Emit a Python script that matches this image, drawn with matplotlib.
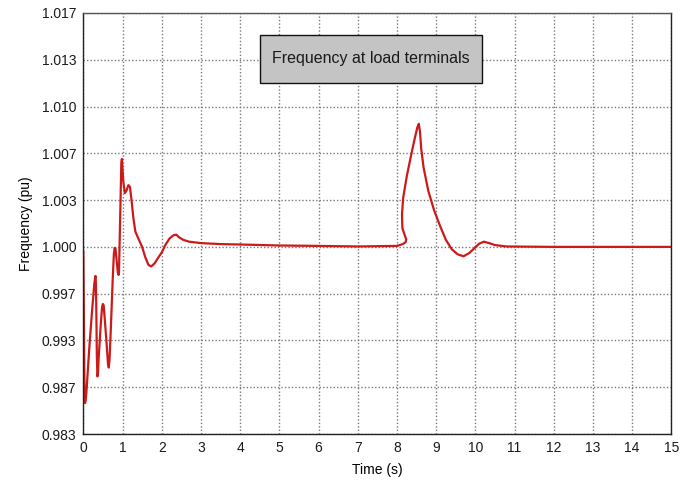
import matplotlib
matplotlib.use("Agg")
import matplotlib.pyplot as plt
from matplotlib.patches import Rectangle

plt.rcParams['font.family'] = ['Liberation Sans', 'DejaVu Sans']

time_s = [0.00, 0.01, 0.025, 0.035, 0.045, 0.06, 0.08, 0.15, 0.22, 0.28, 0.30, 0.31, 0.32,
          0.33, 0.345, 0.36, 0.375, 0.39, 0.45, 0.48, 0.50, 0.52, 0.58, 0.63, 0.65, 0.67,
          0.70, 0.75, 0.78, 0.80, 0.82, 0.84, 0.88, 0.90, 0.91, 0.94, 0.97, 0.985,
          1.02, 1.06, 1.10, 1.15, 1.19, 1.23, 1.28, 1.33, 1.42, 1.50, 1.58, 1.66,
          1.73, 1.82, 1.92, 2.00, 2.10, 2.20, 2.30, 2.37, 2.45, 2.55, 2.70, 3.00,
          3.50, 4.00, 5.00, 6.00, 7.00, 8.00, 8.15, 8.22, 8.24, 8.20, 8.14, 8.13,
          8.16, 8.25, 8.36, 8.45, 8.52, 8.56, 8.59, 8.62, 8.68, 8.80, 8.95, 9.10,
          9.25, 9.40, 9.55, 9.70, 9.85, 10.00, 10.10, 10.22, 10.35, 10.50, 10.80,
          12.00, 15.00]
freq_pu = [0.99967, 0.99667, 0.99133, 0.98917, 0.98887, 0.98907, 0.98967, 0.99267,
           0.99533, 0.99733, 0.99777, 0.99793, 0.99750, 0.99600, 0.99233, 0.99077,
           0.99100, 0.99200, 0.99467, 0.99573, 0.99593, 0.99583, 0.99367, 0.99167,
           0.99140, 0.99200, 0.99400, 0.99767, 0.99950, 0.99993, 0.99990, 0.99933,
           0.99817, 0.99800, 0.99817, 1.00200, 1.00600, 1.00627, 1.00467, 1.00383,
           1.00400, 1.00440, 1.00427, 1.00333, 1.00200, 1.00107, 1.00050, 1.00000,
           0.99927, 0.99873, 0.99860, 0.99883, 0.99927, 0.99960, 1.00017, 1.00060,
           1.00083, 1.00087, 1.00067, 1.00050, 1.00037, 1.00027, 1.00020, 1.00017,
           1.00010, 1.00007, 1.00003, 1.00007, 1.00020, 1.00033, 1.00053, 1.00083,
           1.00133, 1.00233, 1.00350, 1.00500, 1.00650, 1.00767, 1.00850, 1.00877,
           1.00817, 1.00700, 1.00567, 1.00400, 1.00260, 1.00150, 1.00050, 0.99983,
           0.99947, 0.99933, 0.99957, 0.99997, 1.00023, 1.00037, 1.00027, 1.00013,
           1.00003, 1.00000, 1.00000]

x_ticks = list(range(0, 16))
# grid is evenly spaced (1/300 pu); labels are as printed on the original chart
y_tick_labels = ['0.983', '0.987', '0.993', '0.997', '1.000',
                 '1.003', '1.007', '1.010', '1.013', '1.017']
y_tick_pos = [1.0 + (i - 4) / 300 for i in range(len(y_tick_labels))]

fig = plt.figure(figsize=(6.86, 4.82), dpi=100)
ax = fig.add_axes([83.3 / 686, (482 - 434) / 482, (671.3 - 83.3) / 686, (434 - 13) / 482])

ax.plot(time_s, freq_pu, color='#cc1a1a', lw=1.6, solid_joinstyle='round')

ax.set_xlim(0, 15)
ax.set_ylim(y_tick_pos[0], y_tick_pos[-1])
ax.set_yticks(y_tick_pos)
ax.set_yticklabels(y_tick_labels)
ax.set_xticks(x_ticks)
ax.tick_params(axis='both', length=0, labelsize=10, colors='#1a1a1a', pad=5)
ax.grid(True, linestyle=(0, (1, 1.5)), color='#7a7a7a', lw=1.0)
for s in ax.spines.values():
    s.set_color('#222222')
    s.set_linewidth(1.0)
ax.spines['top'].set_color('#555555')

ax.set_xlabel('Time (s)', fontsize=10, labelpad=6)
ax.set_ylabel('Frequency (pu)', fontsize=10, labelpad=6)

bx0 = (260 - 83.3) / 588
bw = 222 / 588
by0 = (434 - 83) / 421
bh = 48 / 421
ax.add_patch(Rectangle((bx0, by0), bw, bh, transform=ax.transAxes,
                       facecolor='#c4c4c4', edgecolor='#111111', lw=1.0, zorder=5))
ax.text(bx0 + bw / 2, by0 + bh / 2, 'Frequency at load terminals', transform=ax.transAxes,
        ha='center', va='center', fontsize=11.5, color='#1a1a1a', zorder=6)

fig.savefig('out.png', dpi=100)
